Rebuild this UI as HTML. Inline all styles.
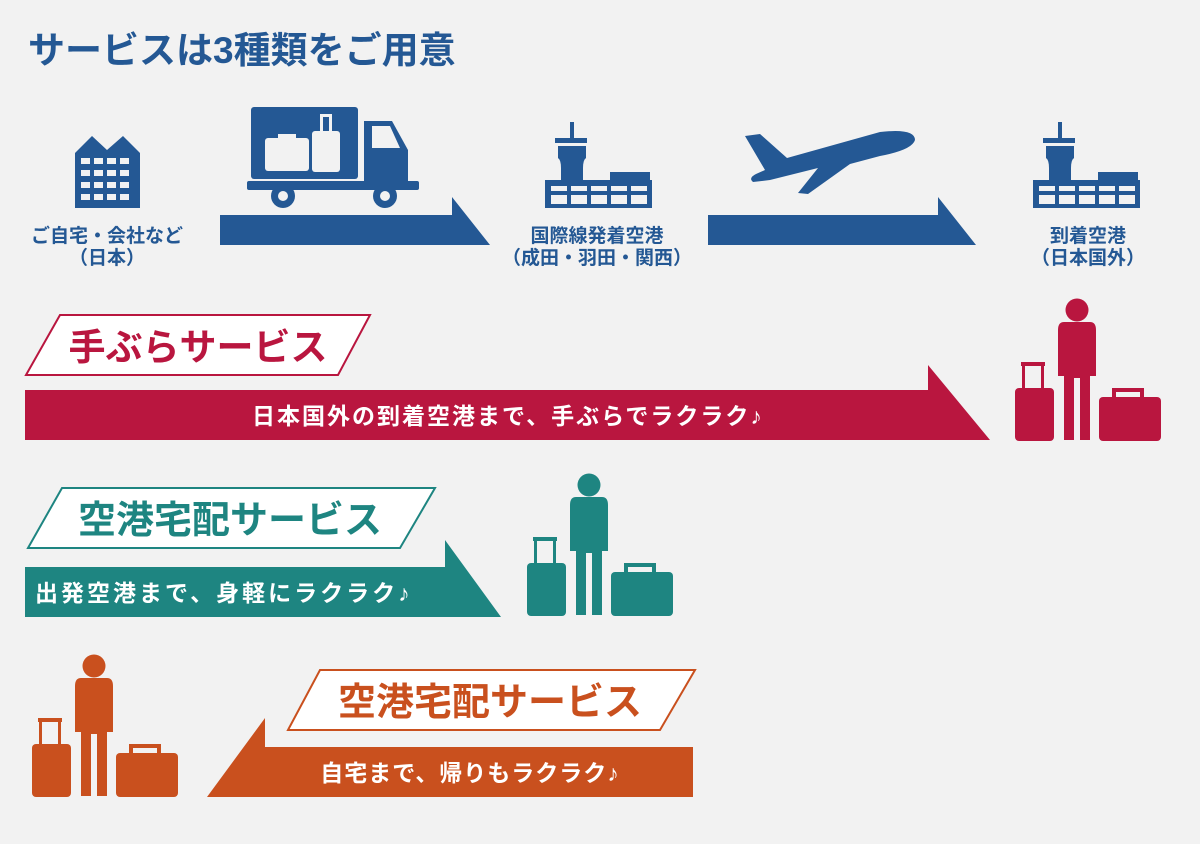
<!DOCTYPE html>
<html><head><meta charset="utf-8"><style>
body{margin:0;background:#f2f2f2;}
svg{display:block}
text{font-family:"Liberation Sans","Noto Sans CJK JP",sans-serif;font-weight:bold}
</style></head><body>
<svg width="1200" height="844" viewBox="0 0 1200 844" xmlns="http://www.w3.org/2000/svg">
<defs>
<g id="pl">
 <circle cx="1077" cy="310" r="11.5"/>
 <path d="M1064 322 H1090 Q1096 322 1096 330 V376 H1090 V440 H1080 V378 H1074 V440 H1064 V376 H1058 V330 Q1058 322 1064 322Z"/>
 <rect x="1021" y="362" width="24" height="4"/>
 <rect x="1022" y="362" width="3" height="26"/><rect x="1041" y="362" width="3" height="26"/>
 <rect x="1015" y="388" width="39" height="53" rx="4"/>
 <rect x="1112" y="388" width="32" height="4"/><rect x="1112" y="388" width="4" height="10"/><rect x="1140" y="388" width="4" height="10"/>
 <rect x="1099" y="397" width="62" height="44" rx="4"/>
</g>
<g id="tw">
 <rect x="570" y="122" width="4" height="18"/>
 <rect x="555" y="138" width="32" height="5"/>
 <path d="M558 146 H586 V158 Q583 160 583 168 V180 H561 V168 Q561 160 558 158Z"/>
 <rect x="610" y="172" width="40" height="10"/>
 <rect x="545" y="180" width="107" height="28"/>
 <g fill="#f2f2f2"><rect x="551" y="186" width="16" height="5"/><rect x="571" y="186" width="16" height="5"/><rect x="591" y="186" width="16" height="5"/><rect x="611" y="186" width="16" height="5"/><rect x="631" y="186" width="16" height="5"/>
 <rect x="551" y="195" width="16" height="9"/><rect x="571" y="195" width="16" height="9"/><rect x="591" y="195" width="16" height="9"/><rect x="611" y="195" width="16" height="9"/><rect x="631" y="195" width="16" height="9"/></g>
</g>
</defs>
<text x="28" y="63" font-size="37" fill="#245894">サービスは3種類をご用意</text>
<g fill="#245894">
 <path d="M75 153 L92 136 L107 150 L123 136 L140 153 V208 H75Z"/>
 <g fill="#f2f2f2">
  <rect x="81" y="158" width="9" height="6"/><rect x="94" y="158" width="9" height="6"/><rect x="107" y="158" width="9" height="6"/><rect x="120" y="158" width="9" height="6"/>
  <rect x="81" y="170" width="9" height="6"/><rect x="94" y="170" width="9" height="6"/><rect x="107" y="170" width="9" height="6"/><rect x="120" y="170" width="9" height="6"/>
  <rect x="81" y="182" width="9" height="6"/><rect x="94" y="182" width="9" height="6"/><rect x="107" y="182" width="9" height="6"/><rect x="120" y="182" width="9" height="6"/>
  <rect x="81" y="194" width="9" height="6"/><rect x="94" y="194" width="9" height="6"/><rect x="107" y="194" width="9" height="6"/><rect x="120" y="194" width="9" height="6"/>
 </g>
 <rect x="251" y="107" width="107" height="72" rx="3"/>
 <path d="M364 121 H392 L408 150 V182 H364Z"/>
 <rect x="247" y="181" width="172" height="9" rx="2"/>
 <circle cx="283" cy="196" r="12"/><circle cx="385" cy="196" r="12"/>
 <circle cx="283" cy="196" r="5" fill="#f2f2f2"/><circle cx="385" cy="196" r="5" fill="#f2f2f2"/>
 <path d="M372 126 H390 L400 148 H372Z" fill="#f2f2f2"/>
 <g fill="#f2f2f2"><rect x="265" y="138" width="44" height="33" rx="3"/><rect x="278" y="134" width="18" height="4"/>
 <rect x="312" y="131" width="28" height="41" rx="3"/><rect x="320" y="114" width="12" height="3"/><rect x="320" y="114" width="3" height="17"/><rect x="329" y="114" width="3" height="17"/></g>
 <path d="M220 215 H452 V197 L490 245 H220Z"/>
 <use href="#tw"/>
 <use href="#tw" x="488"/>
 <path d="M745 136 L760 134 L787 158 L880 132 Q915 128 915 140 Q912 150 880 156 L850 164 L808 194 L798 193 L818 168 L770 180 L753 182 Q748 178 756 174 L765 170Z"/>
 <path d="M708 215 H938 V197 L976 245 H708Z"/>
</g>
<g fill="#245894" font-size="19" text-anchor="middle">
 <text x="107" y="242">ご自宅・会社など</text><text x="107" y="264">（日本）</text>
 <text x="597" y="242">国際線発着空港</text><text x="597" y="264">（成田・羽田・関西）</text>
 <text x="1088" y="242">到着空港</text><text x="1088" y="264">（日本国外）</text>
</g>
<path d="M25 390 H928 V365 L990 440 H25Z" fill="#b9163f"/>
<polygon points="26,375 60,315 370,315 338,375" fill="#fff" stroke="#b9163f" stroke-width="2"/>
<text x="198" y="360" font-size="37" fill="#b9163f" text-anchor="middle">手ぶらサービス</text>
<text x="508" y="424" font-size="23" letter-spacing="2" fill="#fff" text-anchor="middle">日本国外の到着空港まで、手ぶらでラクラク♪</text>
<use href="#pl" fill="#b9163f"/>
<path d="M25 567 H445 V540 L501 617 H25Z" fill="#1e8581"/>
<polygon points="28,548 62,488 435,488 400,548" fill="#fff" stroke="#1e8581" stroke-width="2"/>
<text x="230" y="533" font-size="38" fill="#1e8581" text-anchor="middle">空港宅配サービス</text>
<text x="35" y="601" font-size="23" letter-spacing="3" fill="#fff">出発空港まで、身軽にラクラク♪</text>
<use href="#pl" fill="#1e8581" x="-488" y="175"/>
<path d="M693 747 H265 V718 L207 797 H693Z" fill="#c9501e"/>
<polygon points="288,730 320,670 695,670 660,730" fill="#fff" stroke="#c9501e" stroke-width="2"/>
<text x="490" y="715" font-size="38" fill="#c9501e" text-anchor="middle">空港宅配サービス</text>
<text x="470" y="781" font-size="23" letter-spacing="1" fill="#fff" text-anchor="middle">自宅まで、帰りもラクラク♪</text>
<use href="#pl" fill="#c9501e" x="-983" y="356"/>
</svg>
</body></html>
